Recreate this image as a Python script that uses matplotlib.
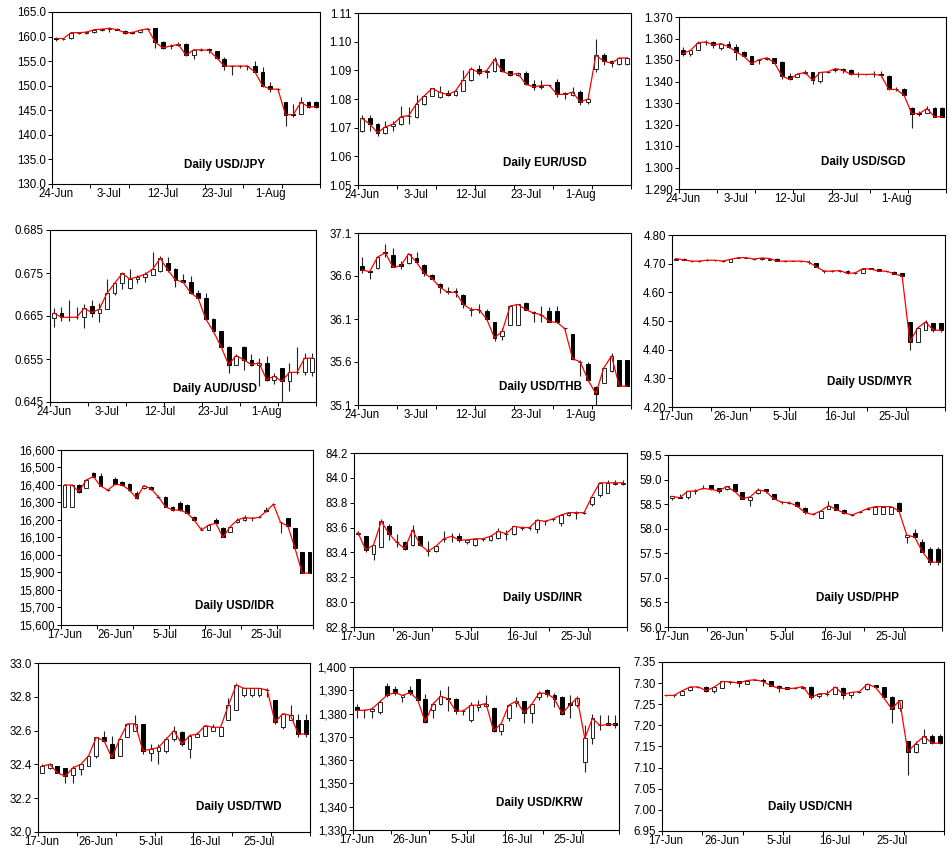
import numpy as np
import matplotlib
matplotlib.use("Agg")
import matplotlib.pyplot as plt
from matplotlib.ticker import FuncFormatter

plt.rcParams['font.family'] = ['Liberation Sans', 'DejaVu Sans']

# tick labels on the date axis (every 7th business day)
dates_a = ['24-Jun', '3-Jul', '12-Jul', '23-Jul', '1-Aug']
dates_b = ['17-Jun', '26-Jun', '5-Jul', '16-Jul', '25-Jul']

# ---- daily OHLC values ----
jpy_open = [159.7, 159.5, 159.7, 160.8, 160.8, 160.9, 161.4, 161.6, 161.6, 161.2, 160.9, 160.9, 161.5, 161.7, 158.8, 158.0, 158.3, 158.4, 156.3, 157.3, 157.5, 157.0, 155.5, 154.1, 154.0, 154.0, 154.0, 152.8, 150.0, 149.3, 146.6, 144.2, 144.3, 146.6, 146.6]
jpy_high = [160.0, 159.8, 160.9, 161.0, 161.2, 161.5, 161.7, 162.0, 161.7, 161.3, 161.1, 161.4, 161.7, 161.8, 159.2, 158.4, 158.8, 158.7, 157.5, 157.7, 157.6, 157.1, 155.8, 154.1, 154.3, 154.2, 155.1, 153.8, 150.8, 149.6, 146.7, 146.3, 147.8, 146.8, 146.8]
jpy_low = [159.0, 159.4, 159.6, 160.5, 160.6, 160.8, 161.2, 161.0, 161.3, 160.5, 160.5, 160.8, 161.4, 157.6, 157.5, 157.4, 158.0, 156.0, 155.5, 157.0, 156.6, 155.5, 153.2, 152.1, 153.6, 153.2, 152.5, 149.8, 148.7, 149.0, 141.8, 143.6, 144.2, 145.4, 145.4]
jpy_close = [159.6, 159.6, 160.8, 160.8, 160.9, 161.4, 161.5, 161.7, 161.4, 160.8, 160.8, 161.3, 161.6, 158.8, 157.7, 158.1, 158.4, 156.2, 157.3, 157.3, 157.2, 155.7, 154.0, 154.0, 154.0, 154.0, 152.8, 150.0, 149.3, 149.3, 144.1, 144.1, 146.6, 145.7, 145.7]

eur_open = [1.0690, 1.0732, 1.0713, 1.0682, 1.0706, 1.0713, 1.0740, 1.0738, 1.0784, 1.0811, 1.0806, 1.0822, 1.0814, 1.0829, 1.0866, 1.0903, 1.0894, 1.0898, 1.0938, 1.0897, 1.0884, 1.0892, 1.0854, 1.0841, 1.0848, 1.0860, 1.0820, 1.0815, 1.0825, 1.0791, 1.0906, 1.0953, 1.0932, 1.0922, 1.0923]
eur_high = [1.0745, 1.0745, 1.0715, 1.0725, 1.0722, 1.0775, 1.0773, 1.0815, 1.0815, 1.0840, 1.0845, 1.0830, 1.0832, 1.0900, 1.0910, 1.0920, 1.0902, 1.0945, 1.0940, 1.0898, 1.0893, 1.0897, 1.0867, 1.0867, 1.0850, 1.0870, 1.0825, 1.0842, 1.0830, 1.0803, 1.1008, 1.0962, 1.0935, 1.0945, 1.0945]
eur_low = [1.0685, 1.0690, 1.0670, 1.0678, 1.0690, 1.0710, 1.0713, 1.0735, 1.0780, 1.0810, 1.0803, 1.0810, 1.0812, 1.0828, 1.0862, 1.0885, 1.0875, 1.0895, 1.0895, 1.0880, 1.0880, 1.0848, 1.0830, 1.0835, 1.0845, 1.0807, 1.0800, 1.0812, 1.0780, 1.0783, 1.0893, 1.0920, 1.0912, 1.0920, 1.0920]
eur_close = [1.0732, 1.0713, 1.0682, 1.0703, 1.0712, 1.0738, 1.0742, 1.0784, 1.0811, 1.0837, 1.0823, 1.0815, 1.0828, 1.0868, 1.0906, 1.0892, 1.0899, 1.0938, 1.0897, 1.0885, 1.0889, 1.0852, 1.0842, 1.0847, 1.0848, 1.0817, 1.0816, 1.0824, 1.0790, 1.0800, 1.0953, 1.0932, 1.0925, 1.0943, 1.0943]

sgd_open = [1.3548, 1.3530, 1.3545, 1.3585, 1.3585, 1.3556, 1.3576, 1.3560, 1.3538, 1.3517, 1.3500, 1.3504, 1.3507, 1.3491, 1.3425, 1.3421, 1.3440, 1.3442, 1.3402, 1.3442, 1.3455, 1.3460, 1.3455, 1.3434, 1.3433, 1.3433, 1.3435, 1.3424, 1.3364, 1.3367, 1.3279, 1.3252, 1.3254, 1.3277, 1.3277]
sgd_high = [1.3560, 1.3548, 1.3590, 1.3593, 1.3590, 1.3580, 1.3588, 1.3575, 1.3540, 1.3520, 1.3505, 1.3512, 1.3510, 1.3495, 1.3440, 1.3440, 1.3455, 1.3445, 1.3445, 1.3450, 1.3465, 1.3462, 1.3458, 1.3442, 1.3436, 1.3448, 1.3448, 1.3432, 1.3375, 1.3370, 1.3280, 1.3262, 1.3285, 1.3280, 1.3280]
sgd_low = [1.3520, 1.3520, 1.3545, 1.3570, 1.3555, 1.3545, 1.3555, 1.3500, 1.3515, 1.3480, 1.3480, 1.3500, 1.3485, 1.3410, 1.3405, 1.3420, 1.3435, 1.3390, 1.3395, 1.3438, 1.3442, 1.3440, 1.3430, 1.3420, 1.3430, 1.3420, 1.3420, 1.3360, 1.3355, 1.3335, 1.3185, 1.3240, 1.3252, 1.3235, 1.3235]
sgd_close = [1.3530, 1.3545, 1.3580, 1.3584, 1.3570, 1.3576, 1.3562, 1.3538, 1.3517, 1.3483, 1.3502, 1.3510, 1.3488, 1.3425, 1.3410, 1.3434, 1.3442, 1.3406, 1.3442, 1.3445, 1.3460, 1.3452, 1.3434, 1.3433, 1.3433, 1.3434, 1.3428, 1.3363, 1.3363, 1.3336, 1.3251, 1.3251, 1.3274, 1.3236, 1.3236]

aud_open = [0.6645, 0.6656, 0.6647, 0.6647, 0.6647, 0.6674, 0.6658, 0.6666, 0.6703, 0.6726, 0.6715, 0.6736, 0.6740, 0.6746, 0.6755, 0.6773, 0.6759, 0.6734, 0.6730, 0.6704, 0.6691, 0.6643, 0.6614, 0.6579, 0.6537, 0.6579, 0.6548, 0.6537, 0.6541, 0.6502, 0.6529, 0.6498, 0.6519, 0.6519, 0.6519]
aud_high = [0.6668, 0.6672, 0.6688, 0.6672, 0.6678, 0.6688, 0.6680, 0.6735, 0.6728, 0.6752, 0.6760, 0.6745, 0.6752, 0.6800, 0.6790, 0.6788, 0.6761, 0.6748, 0.6744, 0.6710, 0.6703, 0.6646, 0.6616, 0.6580, 0.6562, 0.6580, 0.6562, 0.6553, 0.6558, 0.6518, 0.6530, 0.6540, 0.6577, 0.6565, 0.6565]
aud_low = [0.6625, 0.6638, 0.6638, 0.6642, 0.6622, 0.6648, 0.6635, 0.6666, 0.6700, 0.6712, 0.6712, 0.6727, 0.6730, 0.6745, 0.6753, 0.6753, 0.6717, 0.6728, 0.6702, 0.6690, 0.6640, 0.6612, 0.6577, 0.6518, 0.6535, 0.6525, 0.6533, 0.6488, 0.6498, 0.6492, 0.6450, 0.6475, 0.6515, 0.6513, 0.6510]
aud_close = [0.6657, 0.6647, 0.6647, 0.6647, 0.6668, 0.6658, 0.6666, 0.6703, 0.6726, 0.6749, 0.6736, 0.6741, 0.6747, 0.6759, 0.6784, 0.6757, 0.6734, 0.6729, 0.6704, 0.6691, 0.6643, 0.6614, 0.6579, 0.6537, 0.6558, 0.6548, 0.6537, 0.6541, 0.6502, 0.6510, 0.6498, 0.6519, 0.6519, 0.6552, 0.6552]

thb_open = [36.72, 36.66, 36.69, 36.88, 36.84, 36.74, 36.75, 36.81, 36.73, 36.61, 36.51, 36.43, 36.42, 36.38, 36.21, 36.21, 36.19, 36.07, 35.90, 36.03, 36.03, 36.29, 36.18, 36.15, 36.19, 36.19, 35.99, 35.93, 35.60, 35.58, 35.31, 35.36, 35.49, 35.62, 35.62]
thb_high = [36.82, 36.67, 36.83, 36.97, 36.92, 36.78, 36.86, 36.88, 36.74, 36.62, 36.52, 36.47, 36.46, 36.39, 36.24, 36.27, 36.22, 36.07, 35.99, 36.26, 36.28, 36.30, 36.19, 36.25, 36.24, 36.25, 36.00, 35.93, 35.62, 35.60, 35.32, 35.53, 35.70, 35.62, 35.62]
thb_low = [36.63, 36.57, 36.68, 36.82, 36.70, 36.68, 36.74, 36.75, 36.60, 36.56, 36.40, 36.39, 36.36, 36.23, 36.13, 36.17, 36.08, 35.84, 35.86, 36.03, 36.03, 36.20, 36.06, 36.07, 36.07, 36.05, 35.97, 35.62, 35.44, 35.38, 35.10, 35.36, 35.48, 35.32, 35.32]
thb_close = [36.67, 36.65, 36.82, 36.87, 36.70, 36.72, 36.86, 36.76, 36.63, 36.57, 36.47, 36.41, 36.41, 36.27, 36.21, 36.21, 36.10, 35.88, 35.96, 36.25, 36.27, 36.21, 36.17, 36.15, 36.07, 36.06, 35.99, 35.64, 35.60, 35.39, 35.23, 35.53, 35.67, 35.32, 35.32]

myr_open = [4.713, 4.718, 4.709, 4.709, 4.712, 4.712, 4.710, 4.707, 4.721, 4.721, 4.716, 4.715, 4.713, 4.718, 4.709, 4.709, 4.709, 4.706, 4.701, 4.674, 4.674, 4.676, 4.676, 4.668, 4.668, 4.685, 4.681, 4.674, 4.672, 4.666, 4.497, 4.427, 4.470, 4.494, 4.494]
myr_high = [4.719, 4.719, 4.711, 4.711, 4.715, 4.714, 4.712, 4.716, 4.722, 4.722, 4.718, 4.721, 4.719, 4.719, 4.711, 4.710, 4.711, 4.712, 4.702, 4.678, 4.678, 4.679, 4.677, 4.670, 4.684, 4.686, 4.682, 4.676, 4.673, 4.667, 4.497, 4.480, 4.505, 4.494, 4.494]
myr_low = [4.712, 4.712, 4.707, 4.707, 4.709, 4.710, 4.706, 4.706, 4.719, 4.720, 4.714, 4.714, 4.712, 4.708, 4.707, 4.708, 4.707, 4.700, 4.688, 4.668, 4.670, 4.672, 4.665, 4.664, 4.667, 4.680, 4.673, 4.671, 4.663, 4.656, 4.398, 4.427, 4.468, 4.463, 4.463]
myr_close = [4.718, 4.713, 4.709, 4.709, 4.712, 4.712, 4.709, 4.715, 4.721, 4.721, 4.716, 4.720, 4.718, 4.709, 4.709, 4.709, 4.709, 4.706, 4.689, 4.674, 4.674, 4.676, 4.666, 4.668, 4.683, 4.681, 4.674, 4.674, 4.664, 4.657, 4.427, 4.476, 4.497, 4.468, 4.468]

idr_open = [16276, 16276, 16400, 16381, 16470, 16453, 16371, 16434, 16419, 16404, 16352, 16381, 16390, 16333, 16333, 16276, 16295, 16286, 16219, 16143, 16143, 16200, 16156, 16133, 16186, 16200, 16210, 16215, 16255, 16290, 16186, 16210, 16152, 16015, 16015]
idr_high = [16408, 16408, 16404, 16430, 16475, 16470, 16376, 16445, 16423, 16410, 16365, 16402, 16395, 16340, 16338, 16280, 16310, 16290, 16225, 16160, 16175, 16210, 16158, 16165, 16210, 16230, 16215, 16220, 16275, 16295, 16190, 16212, 16155, 16015, 16015]
idr_low = [16276, 16276, 16355, 16380, 16445, 16394, 16366, 16400, 16396, 16367, 16320, 16375, 16372, 16328, 16276, 16253, 16250, 16238, 16195, 16140, 16140, 16175, 16100, 16130, 16180, 16195, 16195, 16210, 16245, 16285, 16125, 16160, 16035, 15897, 15897]
idr_close = [16400, 16400, 16362, 16429, 16448, 16394, 16371, 16404, 16400, 16371, 16324, 16396, 16379, 16333, 16276, 16257, 16257, 16240, 16200, 16143, 16171, 16181, 16101, 16162, 16200, 16214, 16210, 16215, 16250, 16290, 16186, 16166, 16038, 15897, 15897]

inr_open = [83.55, 83.53, 83.39, 83.44, 83.61, 83.48, 83.48, 83.46, 83.53, 83.41, 83.41, 83.51, 83.53, 83.53, 83.48, 83.46, 83.51, 83.50, 83.52, 83.55, 83.55, 83.60, 83.60, 83.59, 83.65, 83.67, 83.64, 83.70, 83.72, 83.72, 83.79, 83.86, 83.88, 83.95, 83.95]
inr_high = [83.57, 83.53, 83.46, 83.67, 83.63, 83.55, 83.49, 83.62, 83.53, 83.49, 83.46, 83.57, 83.56, 83.56, 83.50, 83.51, 83.52, 83.54, 83.60, 83.58, 83.61, 83.61, 83.61, 83.67, 83.66, 83.68, 83.71, 83.72, 83.73, 83.73, 83.85, 83.96, 83.98, 83.98, 83.98]
inr_low = [83.54, 83.40, 83.34, 83.44, 83.50, 83.44, 83.42, 83.45, 83.45, 83.37, 83.40, 83.48, 83.48, 83.48, 83.47, 83.45, 83.49, 83.49, 83.51, 83.50, 83.54, 83.58, 83.58, 83.56, 83.62, 83.65, 83.61, 83.69, 83.67, 83.71, 83.77, 83.85, 83.88, 83.94, 83.94]
inr_close = [83.56, 83.42, 83.46, 83.65, 83.55, 83.48, 83.43, 83.58, 83.46, 83.41, 83.45, 83.51, 83.53, 83.50, 83.50, 83.51, 83.51, 83.53, 83.57, 83.55, 83.61, 83.60, 83.60, 83.66, 83.65, 83.67, 83.70, 83.72, 83.72, 83.72, 83.85, 83.96, 83.96, 83.96, 83.96]

php_open = [58.62, 58.65, 58.65, 58.77, 58.82, 58.88, 58.82, 58.80, 58.90, 58.74, 58.59, 58.72, 58.80, 58.70, 58.54, 58.53, 58.55, 58.43, 58.29, 58.22, 58.41, 58.51, 58.38, 58.28, 58.34, 58.41, 58.29, 58.29, 58.29, 58.53, 57.83, 57.92, 57.72, 57.58, 57.58]
php_high = [58.67, 58.70, 58.76, 58.80, 58.88, 58.89, 58.83, 58.87, 58.92, 58.75, 58.66, 58.82, 58.81, 58.71, 58.56, 58.56, 58.57, 58.45, 58.31, 58.38, 58.56, 58.51, 58.40, 58.29, 58.36, 58.45, 58.45, 58.45, 58.45, 58.54, 57.87, 58.00, 57.80, 57.63, 57.63]
php_low = [58.59, 58.62, 58.60, 58.70, 58.80, 58.79, 58.72, 58.79, 58.75, 58.60, 58.47, 58.70, 58.73, 58.60, 58.50, 58.50, 58.45, 58.30, 58.27, 58.22, 58.40, 58.38, 58.30, 58.25, 58.32, 58.39, 58.29, 58.29, 58.29, 58.35, 57.70, 57.82, 57.52, 57.26, 57.26]
php_close = [58.66, 58.63, 58.76, 58.77, 58.82, 58.80, 58.77, 58.86, 58.76, 58.61, 58.65, 58.79, 58.76, 58.61, 58.54, 58.53, 58.46, 58.33, 58.29, 58.36, 58.47, 58.39, 58.32, 58.28, 58.34, 58.41, 58.45, 58.45, 58.45, 58.36, 57.87, 57.83, 57.53, 57.32, 57.32]

twd_open = [32.35, 32.38, 32.39, 32.38, 32.34, 32.37, 32.39, 32.45, 32.56, 32.52, 32.45, 32.56, 32.60, 32.64, 32.47, 32.48, 32.48, 32.55, 32.59, 32.49, 32.56, 32.57, 32.60, 32.57, 32.66, 32.72, 32.81, 32.81, 32.81, 32.84, 32.78, 32.62, 32.66, 32.66, 32.66]
twd_high = [32.40, 32.41, 32.39, 32.38, 32.39, 32.41, 32.45, 32.56, 32.60, 32.57, 32.55, 32.64, 32.69, 32.64, 32.52, 32.52, 32.56, 32.63, 32.60, 32.58, 32.59, 32.63, 32.64, 32.62, 32.79, 32.88, 32.85, 32.85, 32.85, 32.85, 32.78, 32.70, 32.75, 32.70, 32.70]
twd_low = [32.35, 32.37, 32.35, 32.29, 32.29, 32.34, 32.39, 32.44, 32.53, 32.44, 32.45, 32.56, 32.60, 32.46, 32.42, 32.40, 32.47, 32.54, 32.51, 32.44, 32.56, 32.57, 32.60, 32.57, 32.66, 32.72, 32.80, 32.80, 32.80, 32.80, 32.64, 32.61, 32.66, 32.56, 32.56]
twd_close = [32.39, 32.40, 32.35, 32.33, 32.38, 32.40, 32.45, 32.56, 32.54, 32.44, 32.55, 32.64, 32.64, 32.48, 32.49, 32.50, 32.55, 32.60, 32.52, 32.57, 32.58, 32.63, 32.62, 32.62, 32.75, 32.87, 32.85, 32.85, 32.85, 32.84, 32.65, 32.70, 32.69, 32.58, 32.58]

krw_open = [1382.9, 1381.4, 1381.0, 1380.7, 1392.0, 1390.7, 1387.0, 1390.3, 1394.7, 1386.4, 1381.4, 1384.0, 1386.8, 1386.4, 1381.1, 1377.1, 1383.0, 1383.1, 1382.6, 1372.6, 1377.9, 1384.6, 1385.4, 1380.3, 1387.1, 1390.3, 1388.1, 1387.1, 1384.6, 1383.6, 1359.3, 1369.3, 1375.3, 1376.0, 1376.0]
krw_high = [1384.0, 1382.0, 1383.0, 1386.0, 1393.0, 1392.0, 1388.0, 1392.0, 1395.0, 1388.5, 1385.0, 1390.0, 1392.0, 1386.5, 1382.0, 1385.0, 1386.0, 1388.0, 1383.0, 1376.0, 1384.3, 1387.0, 1385.4, 1384.0, 1389.5, 1390.5, 1389.0, 1387.5, 1388.0, 1387.5, 1375.0, 1380.0, 1379.3, 1379.3, 1379.3]
krw_low = [1378.0, 1378.0, 1378.0, 1380.0, 1387.0, 1388.0, 1385.0, 1388.0, 1386.0, 1376.0, 1378.0, 1383.7, 1381.0, 1380.0, 1379.5, 1376.5, 1381.0, 1383.0, 1372.0, 1370.7, 1377.0, 1383.0, 1376.0, 1376.0, 1386.0, 1387.0, 1383.0, 1379.5, 1378.0, 1383.0, 1355.0, 1367.0, 1373.0, 1375.0, 1374.0]
krw_close = [1381.4, 1381.4, 1382.0, 1385.0, 1388.0, 1389.0, 1387.8, 1389.0, 1386.0, 1376.4, 1384.0, 1387.4, 1386.4, 1381.1, 1381.1, 1383.6, 1383.6, 1384.3, 1372.6, 1375.7, 1383.6, 1385.4, 1380.4, 1383.9, 1388.9, 1388.6, 1386.4, 1380.0, 1383.6, 1386.7, 1369.3, 1377.9, 1374.9, 1375.3, 1375.3]

cnh_open = [7.271, 7.271, 7.273, 7.283, 7.291, 7.291, 7.281, 7.288, 7.303, 7.304, 7.299, 7.308, 7.308, 7.304, 7.294, 7.290, 7.288, 7.288, 7.292, 7.269, 7.275, 7.275, 7.288, 7.272, 7.280, 7.286, 7.295, 7.291, 7.266, 7.241, 7.163, 7.137, 7.158, 7.174, 7.174]
cnh_high = [7.272, 7.273, 7.283, 7.292, 7.292, 7.293, 7.292, 7.306, 7.305, 7.306, 7.306, 7.309, 7.311, 7.304, 7.295, 7.291, 7.291, 7.292, 7.293, 7.275, 7.283, 7.292, 7.290, 7.278, 7.282, 7.299, 7.296, 7.291, 7.270, 7.259, 7.164, 7.162, 7.192, 7.179, 7.179]
cnh_low = [7.269, 7.268, 7.272, 7.282, 7.289, 7.278, 7.276, 7.288, 7.298, 7.292, 7.298, 7.307, 7.294, 7.293, 7.280, 7.286, 7.286, 7.287, 7.262, 7.265, 7.270, 7.274, 7.263, 7.265, 7.277, 7.284, 7.289, 7.262, 7.205, 7.235, 7.083, 7.134, 7.158, 7.155, 7.155]
cnh_close = [7.271, 7.271, 7.282, 7.291, 7.291, 7.282, 7.291, 7.304, 7.303, 7.300, 7.306, 7.308, 7.304, 7.294, 7.288, 7.287, 7.288, 7.292, 7.266, 7.275, 7.275, 7.291, 7.273, 7.278, 7.280, 7.298, 7.290, 7.266, 7.239, 7.259, 7.138, 7.157, 7.174, 7.158, 7.158]


def fmt(decimals, comma=False):
    if comma:
        return FuncFormatter(lambda v, p: f'{v:,.0f}')
    return FuncFormatter(lambda v, p: f'{v:.{decimals}f}')


# title, data, y range, y step, formatter, date labels, axes box in px (l, t, r, b), title pos
panels = [
    ('Daily USD/JPY', (jpy_open, jpy_high, jpy_low, jpy_close), 130, 165, 5, fmt(1), dates_a, (52, 12, 320, 184), (0.645, 0.11)),
    ('Daily EUR/USD', (eur_open, eur_high, eur_low, eur_close), 1.05, 1.11, 0.01, fmt(2), dates_a, (358, 13, 631, 185), (0.685, 0.128)),
    ('Daily USD/SGD', (sgd_open, sgd_high, sgd_low, sgd_close), 1.29, 1.37, 0.01, fmt(3), dates_a, (679, 17, 946, 189), (0.69, 0.157)),
    ('Daily AUD/USD', (aud_open, aud_high, aud_low, aud_close), 0.645, 0.685, 0.01, fmt(3), dates_a, (50, 230, 316, 402), (0.62, 0.075)),
    ('Daily USD/THB', (thb_open, thb_high, thb_low, thb_close), 35.1, 37.1, 0.5, fmt(1), dates_a, (358, 233, 631, 405), (0.667, 0.105)),
    ('Daily USD/MYR', (myr_open, myr_high, myr_low, myr_close), 4.2, 4.8, 0.1, fmt(2), dates_b, (672, 235, 945, 407), (0.725, 0.145)),
    ('Daily USD/IDR', (idr_open, idr_high, idr_low, idr_close), 15600, 16600, 100, fmt(0, True), dates_b, (61, 450, 313, 625), (0.69, 0.11)),
    ('Daily USD/INR', (inr_open, inr_high, inr_low, inr_close), 82.8, 84.2, 0.2, fmt(1), dates_b, (354, 453, 627, 627), (0.69, 0.167)),
    ('Daily USD/PHP', (php_open, php_high, php_low, php_close), 56.0, 59.5, 0.5, fmt(1), dates_b, (668, 455, 942, 627), (0.69, 0.17)),
    ('Daily USD/TWD', (twd_open, twd_high, twd_low, twd_close), 32.0, 33.0, 0.2, fmt(1), dates_b, (38, 663, 310, 832), (0.74, 0.15)),
    ('Daily USD/KRW', (krw_open, krw_high, krw_low, krw_close), 1330, 1400, 10, fmt(0, True), dates_b, (353, 667, 619, 830), (0.70, 0.165)),
    ('Daily USD/CNH', (cnh_open, cnh_high, cnh_low, cnh_close), 6.95, 7.35, 0.05, fmt(2), dates_b, (662, 662, 944, 831), (0.525, 0.14)),
]

W, H = 952, 848
fig = plt.figure(figsize=(W / 100, H / 100), dpi=100)

for title, ohlc, ymin, ymax, step, yfmt, dlabels, box, tpos in panels:
    l, t, r, b = box
    ax = fig.add_axes([l / W, 1 - b / H, (r - l) / W, (b - t) / H])
    o, h, lo, c = (np.asarray(v, dtype=float) for v in ohlc)
    x = np.arange(len(c))
    up = c >= o

    ax.vlines(x, lo, h, color='#222222', lw=0.8, zorder=2)
    ax.bar(x[up], (c - o)[up], bottom=o[up], width=0.5, color='white',
           edgecolor='#222222', lw=0.7, zorder=3)
    ax.bar(x[~up], (o - c)[~up], bottom=c[~up], width=0.5, color='black',
           edgecolor='black', lw=0.7, zorder=3)
    ax.plot(x, c, color='red', lw=0.9, zorder=4)

    ax.set_xlim(-0.5, len(c) - 0.5)
    ax.set_ylim(ymin, ymax)
    ax.set_yticks(np.linspace(ymin, ymax, int(round((ymax - ymin) / step)) + 1))
    ax.yaxis.set_major_formatter(yfmt)

    ax.set_xticks(np.arange(-0.5, len(c), 5))
    ax.set_xticklabels([])
    ax.set_xticks([0, 7, 14, 21, 28], minor=True)
    ax.set_xticklabels(dlabels, minor=True)
    ax.tick_params(axis='x', which='major', direction='out', length=3, width=0.7)
    ax.tick_params(axis='x', which='minor', length=0, pad=3, labelsize=8.3)
    ax.tick_params(axis='y', direction='out', length=3, width=0.7, pad=1.5, labelsize=8.3)

    for s in ax.spines.values():
        s.set_linewidth(0.8)

    ax.text(tpos[0], tpos[1], title, transform=ax.transAxes, ha='center', va='center',
            fontsize=8.4, fontweight='bold')

fig.savefig('out.png', dpi=100)
